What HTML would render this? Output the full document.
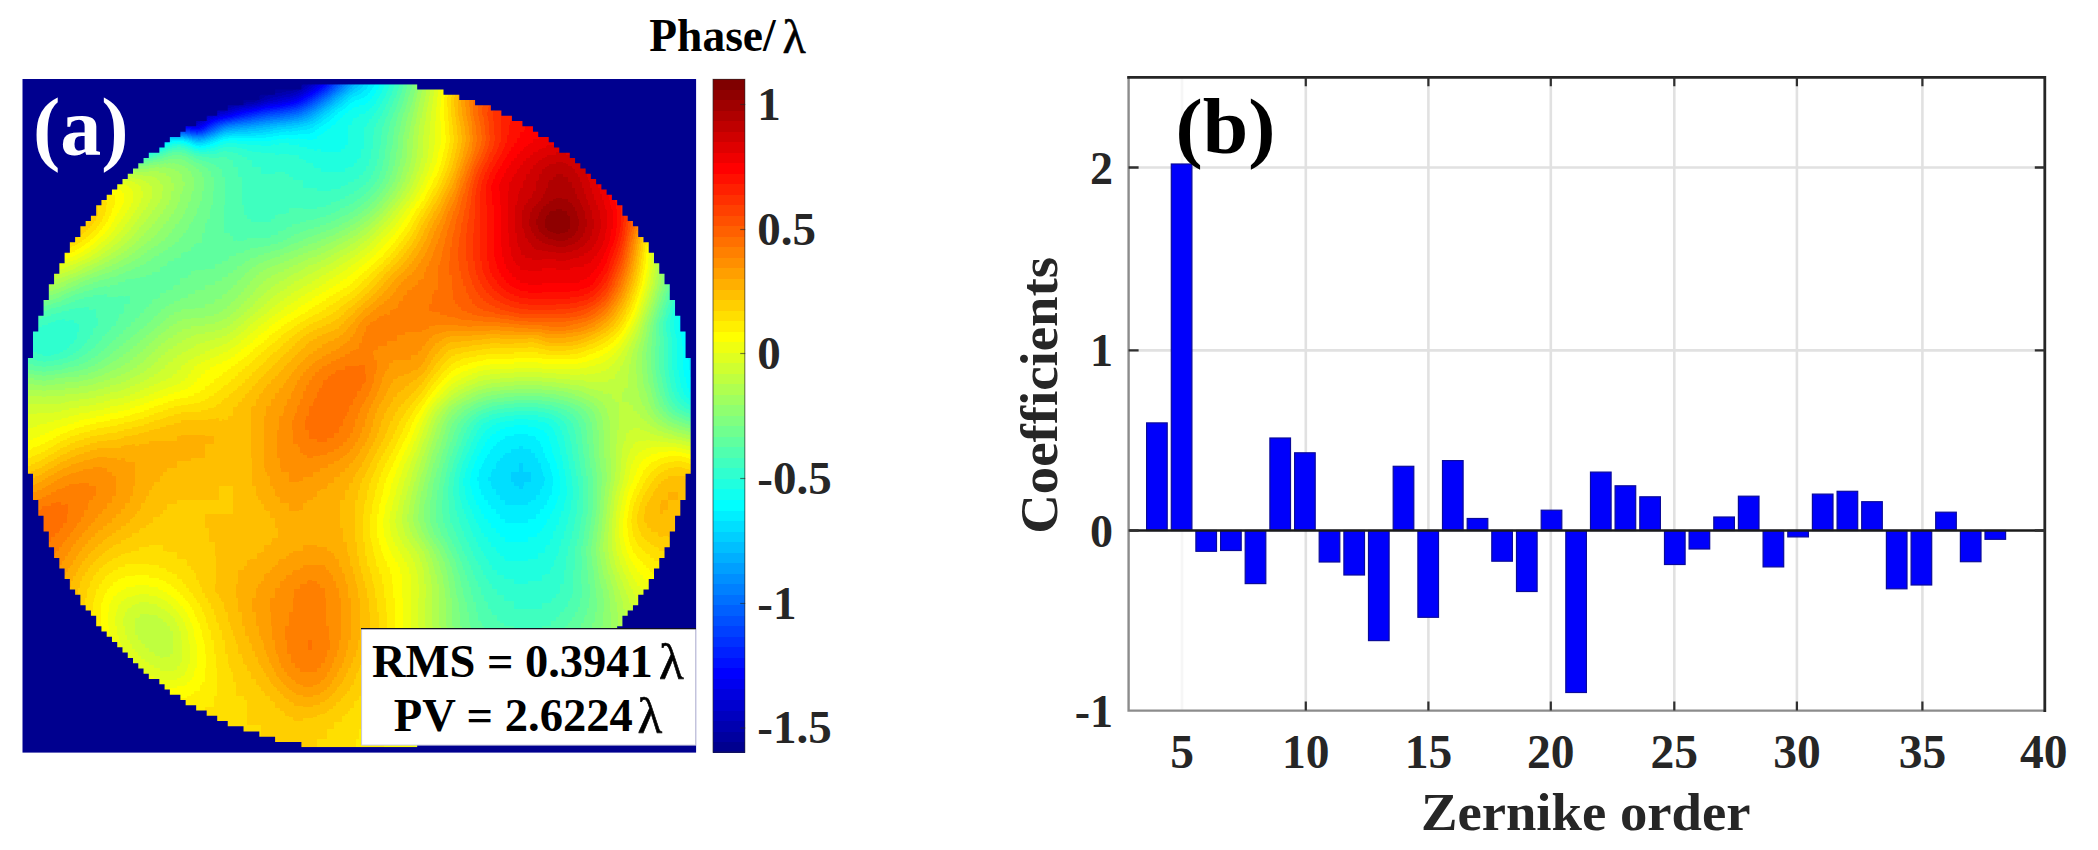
<!DOCTYPE html>
<html lang="en"><head><meta charset="utf-8"><title>Phase map and Zernike coefficients</title>
<style>html,body{margin:0;padding:0;background:#fff}body{width:2098px;height:850px;overflow:hidden;position:relative}svg{position:absolute;left:0;top:0;display:block}text{font-family:"Liberation Serif","DejaVu Serif",serif;font-weight:bold}</style></head><body>
<svg width="2098" height="850" viewBox="0 0 2098 850">
<defs>
<filter id="jet" filterUnits="userSpaceOnUse" x="-3" y="-3" width="54" height="54" color-interpolation-filters="sRGB">
<feGaussianBlur stdDeviation="0.42"/>
<feComponentTransfer><feFuncR type="discrete" tableValues="0 0 0 0 0 0 0 0 0 0 0 0 0 0 0 0 0 0 0 0 0 0 0 0 0.062 0.125 0.188 0.25 0.312 0.375 0.438 0.5 0.562 0.625 0.688 0.75 0.812 0.875 0.938 1 1 1 1 1 1 1 1 1 1 1 1 1 1 1 1 1 0.938 0.875 0.812 0.75 0.688 0.625 0.562 0.5"/><feFuncG type="discrete" tableValues="0 0 0 0 0 0 0 0 0.062 0.125 0.188 0.25 0.312 0.375 0.438 0.5 0.562 0.625 0.688 0.75 0.812 0.875 0.938 1 1 1 1 1 1 1 1 1 1 1 1 1 1 1 1 1 0.938 0.875 0.812 0.75 0.688 0.625 0.562 0.5 0.438 0.375 0.312 0.25 0.188 0.125 0.062 0 0 0 0 0 0 0 0 0"/><feFuncB type="discrete" tableValues="0.562 0.625 0.688 0.75 0.812 0.875 0.938 1 1 1 1 1 1 1 1 1 1 1 1 1 1 1 1 1 0.938 0.875 0.812 0.75 0.688 0.625 0.562 0.5 0.438 0.375 0.312 0.25 0.188 0.125 0.062 0 0 0 0 0 0 0 0 0 0 0 0 0 0 0 0 0 0 0 0 0 0 0 0 0"/></feComponentTransfer>
</filter>
<clipPath id="disk"><path d="M53 1h22v1h-22zM48 2h32v1h-32zM45 3h38v1h-38zM42 4h44v1h-44zM39 5h50v1h-50zM37 6h54v1h-54zM35 7h58v1h-58zM33 8h62v1h-62zM31 9h66v1h-66zM30 10h68v1h-68zM28 11h72v1h-72zM27 12h74v1h-74zM26 13h76v1h-76zM24 14h80v1h-80zM23 15h82v1h-82zM22 16h84v1h-84zM21 17h86v1h-86zM20 18h88v1h-88zM19 19h90v1h-90zM18 20h92v1h-92zM17 21h94v1h-94zM16 22h96v1h-96zM15 23h98v1h-98zM14 24h100v1h-100zM14 25h100v1h-100zM13 26h102v1h-102zM12 27h104v1h-104zM11 28h106v1h-106zM11 29h106v1h-106zM10 30h108v1h-108zM9 31h110v1h-110zM9 32h110v1h-110zM8 33h112v1h-112zM8 34h112v1h-112zM7 35h114v1h-114zM7 36h114v1h-114zM6 37h116v1h-116zM6 38h116v1h-116zM5 39h118v1h-118zM5 40h118v1h-118zM5 41h118v1h-118zM4 42h120v1h-120zM4 43h120v1h-120zM4 44h120v1h-120zM3 45h122v1h-122zM3 46h122v1h-122zM3 47h122v1h-122zM2 48h124v1h-124zM2 49h124v1h-124zM2 50h124v1h-124zM2 51h124v1h-124zM2 52h124v1h-124zM1 53h126v1h-126zM1 54h126v1h-126zM1 55h126v1h-126zM1 56h126v1h-126zM1 57h126v1h-126zM1 58h126v1h-126zM1 59h126v1h-126zM1 60h126v1h-126zM1 61h126v1h-126zM1 62h126v1h-126zM1 63h126v1h-126zM1 64h126v1h-126zM1 65h126v1h-126zM1 66h126v1h-126zM1 67h126v1h-126zM1 68h126v1h-126zM1 69h126v1h-126zM1 70h126v1h-126zM1 71h126v1h-126zM1 72h126v1h-126zM1 73h126v1h-126zM1 74h126v1h-126zM2 75h124v1h-124zM2 76h124v1h-124zM2 77h124v1h-124zM2 78h124v1h-124zM2 79h124v1h-124zM3 80h122v1h-122zM3 81h122v1h-122zM3 82h122v1h-122zM4 83h120v1h-120zM4 84h120v1h-120zM4 85h120v1h-120zM5 86h118v1h-118zM5 87h118v1h-118zM5 88h118v1h-118zM6 89h116v1h-116zM6 90h116v1h-116zM7 91h114v1h-114zM7 92h114v1h-114zM8 93h112v1h-112zM8 94h112v1h-112zM9 95h110v1h-110zM9 96h110v1h-110zM10 97h108v1h-108zM11 98h106v1h-106zM11 99h106v1h-106zM12 100h104v1h-104zM13 101h102v1h-102zM14 102h100v1h-100zM14 103h100v1h-100zM15 104h98v1h-98zM16 105h96v1h-96zM17 106h94v1h-94zM18 107h92v1h-92zM19 108h90v1h-90zM20 109h88v1h-88zM21 110h86v1h-86zM22 111h84v1h-84zM23 112h82v1h-82zM24 113h80v1h-80zM26 114h76v1h-76zM27 115h74v1h-74zM28 116h72v1h-72zM30 117h68v1h-68zM31 118h66v1h-66zM33 119h62v1h-62zM35 120h58v1h-58zM37 121h54v1h-54zM39 122h50v1h-50zM42 123h44v1h-44zM45 124h38v1h-38zM48 125h32v1h-32zM53 126h22v1h-22z"/></clipPath>
</defs>
<rect x="22.5" y="79.0" width="673.6" height="673.6" fill="#00008f"/>
<g transform="translate(22.50 79.00) scale(5.26250)" clip-path="url(#disk)">
<g transform="scale(2.666667)" filter="url(#jet)" shape-rendering="crispEdges">
<path fill="#000000" d="M17 -2h4v1h-4zM14 -1h6v1h-6zM12 0h8v1h-8zM10 1h7v1h-7zM9 2h4v1h-4z"/>
<path fill="#030303" d="M20 -1h1v1h-1z"/>
<path fill="#0b0b0b" d="M17 1h1v1h-1z"/>
<path fill="#0d0d0d" d="M20 0h1v1h-1zM13 2h1v1h-1z"/>
<path fill="#101010" d="M18 1h1v1h-1z"/>
<path fill="#111111" d="M21 -2h1v1h-1zM14 2h1v1h-1z"/>
<path fill="#131313" d="M21 -1h1v1h-1zM8 3h1v1h-1z"/>
<path fill="#151515" d="M12 3h1v1h-1z"/>
<path fill="#161616" d="M9 3h1v1h-1z"/>
<path fill="#181818" d="M19 1h1v1h-1z"/>
<path fill="#191919" d="M7 3h1v1h-1z"/>
<path fill="#1e1e1e" d="M21 0h1v1h-1zM15 2h1v1h-1zM11 3h1v1h-1z"/>
<path fill="#202020" d="M22 -2h1v1h-1z"/>
<path fill="#252525" d="M22 -1h1v1h-1z"/>
<path fill="#282828" d="M20 1h1v1h-1zM16 2h1v1h-1z"/>
<path fill="#2b2b2b" d="M10 3h1v1h-1z"/>
<path fill="#2f2f2f" d="M17 2h1v1h-1zM13 3h1v1h-1z"/>
<path fill="#323232" d="M23 -2h1v1h-1z"/>
<path fill="#333333" d="M18 2h1v1h-1z"/>
<path fill="#353535" d="M22 0h1v1h-1z"/>
<path fill="#393939" d="M19 2h1v1h-1z"/>
<path fill="#3b3b3b" d="M23 -1h1v1h-1zM21 1h1v1h-1z"/>
<path fill="#414141" d="M8 4h1v1h-1z"/>
<path fill="#424242" d="M7 4h1v1h-1z"/>
<path fill="#434343" d="M24 -2h1v1h-1z"/>
<path fill="#444444" d="M20 2h1v1h-1zM14 3h1v1h-1z"/>
<path fill="#464646" d="M6 4h1v1h-1z"/>
<path fill="#484848" d="M15 3h1v1h-1zM49 17h1v1h-1z"/>
<path fill="#494949" d="M9 4h1v1h-1zM49 18h1v1h-1z"/>
<path fill="#4a4a4a" d="M23 0h1v1h-1z"/>
<path fill="#4b4b4b" d="M16 3h1v1h-1zM49 19h1v1h-1z"/>
<path fill="#4d4d4d" d="M24 -1h1v1h-1z"/>
<path fill="#4e4e4e" d="M22 1h1v1h-1zM49 20h1v1h-1z"/>
<path fill="#4f4f4f" d="M17 3h1v1h-1zM12 4h1v1h-1zM48 17h1v1h-1z"/>
<path fill="#505050" d="M48 16h1v1h-1zM48 18h1v1h-1z"/>
<path fill="#525252" d="M25 -2h1v1h-1zM48 15h1v1h-1zM48 19h1v1h-1zM49 21h1v1h-1zM35 28h1v1h-1z"/>
<path fill="#535353" d="M21 2h1v1h-1zM18 3h1v1h-1zM48 20h1v1h-1zM35 27h1v1h-1z"/>
<path fill="#545454" d="M34 28h1v1h-1zM36 28h1v1h-1zM35 29h1v1h-1z"/>
<path fill="#555555" d="M19 3h1v1h-1zM48 14h1v1h-1zM34 27h1v1h-1zM36 27h1v1h-1zM34 29h1v1h-1z"/>
<path fill="#565656" d="M24 0h1v1h-1zM48 21h1v1h-1zM35 26h1v1h-1zM33 28h1v1h-1zM36 29h1v1h-1z"/>
<path fill="#575757" d="M47 17h1v1h-1z"/>
<path fill="#585858" d="M20 3h1v1h-1zM34 26h1v1h-1zM36 26h1v1h-1zM33 27h1v1h-1zM33 29h1v1h-1zM34 30h2v1h-2z"/>
<path fill="#595959" d="M47 16h1v1h-1zM49 22h1v1h-1zM37 28h1v1h-1zM36 30h1v1h-1z"/>
<path fill="#5a5a5a" d="M25 -1h1v1h-1zM13 4h1v1h-1zM47 18h1v1h-1zM35 25h1v1h-1zM33 26h1v1h-1zM32 28h1v1h-1zM37 29h1v1h-1z"/>
<path fill="#5b5b5b" d="M47 19h1v1h-1zM47 20h1v1h-1zM34 25h1v1h-1zM36 25h1v1h-1zM37 27h1v1h-1zM33 30h1v1h-1zM34 31h2v1h-2z"/>
<path fill="#5c5c5c" d="M23 1h1v1h-1zM48 22h1v1h-1zM32 27h1v1h-1zM32 29h1v1h-1zM36 31h1v1h-1z"/>
<path fill="#5d5d5d" d="M24 1h1v1h-1zM47 15h1v1h-1zM47 21h1v1h-1zM37 30h1v1h-1z"/>
<path fill="#5e5e5e" d="M22 2h1v1h-1zM33 25h1v1h-1zM37 26h1v1h-1zM33 31h1v1h-1zM34 32h2v1h-2z"/>
<path fill="#5f5f5f" d="M21 3h1v1h-1zM37 25h1v1h-1zM32 30h1v1h-1zM36 32h1v1h-1z"/>
<path fill="#606060" d="M26 -2h1v1h-1zM25 0h1v1h-1zM47 22h1v1h-1zM35 24h1v1h-1zM32 26h1v1h-1zM37 31h1v1h-1z"/>
<path fill="#616161" d="M10 4h1v1h-1zM20 4h1v1h-1zM46 17h1v1h-1zM34 24h1v1h-1zM36 24h1v1h-1zM38 28h1v1h-1zM38 29h1v1h-1zM33 32h1v1h-1zM34 33h2v1h-2z"/>
<path fill="#626262" d="M22 3h1v1h-1zM16 4h2v1h-2zM21 4h2v1h-2zM47 14h1v1h-1zM31 28h1v1h-1zM32 31h1v1h-1zM37 32h1v1h-1zM36 33h1v1h-1z"/>
<path fill="#636363" d="M23 2h1v1h-1zM15 4h1v1h-1zM19 4h1v1h-1zM49 23h1v1h-1zM37 24h1v1h-1zM38 27h1v1h-1zM31 29h1v1h-1zM38 30h1v1h-1z"/>
<path fill="#646464" d="M24 2h1v1h-1zM23 3h1v1h-1zM11 4h1v1h-1zM18 4h1v1h-1zM23 4h1v1h-1zM21 5h2v1h-2zM33 24h1v1h-1zM32 25h1v1h-1zM33 33h1v1h-1zM37 33h1v1h-1zM34 34h3v1h-3z"/>
<path fill="#656565" d="M25 1h1v1h-1zM14 4h1v1h-1zM23 5h1v1h-1zM46 16h1v1h-1zM46 18h1v1h-1zM46 19h1v1h-1zM46 20h1v1h-1zM38 26h1v1h-1zM31 27h1v1h-1zM38 31h1v1h-1zM32 32h1v1h-1z"/>
<path fill="#666666" d="M26 -1h1v1h-1zM20 5h1v1h-1zM47 13h1v1h-1zM48 23h1v1h-1zM31 30h1v1h-1zM33 34h1v1h-1zM37 34h1v1h-1zM35 35h1v1h-1z"/>
<path fill="#676767" d="M21 6h2v1h-2zM1 18h2v1h-2zM46 21h1v1h-1zM38 25h1v1h-1zM38 32h1v1h-1zM34 35h1v1h-1zM36 35h1v1h-1z"/>
<path fill="#686868" d="M24 3h1v1h-1zM24 4h1v1h-1zM18 5h2v1h-2zM23 6h1v1h-1zM32 33h1v1h-1zM37 35h1v1h-1z"/>
<path fill="#696969" d="M7 5h1v1h-1zM17 5h1v1h-1zM24 5h1v1h-1zM20 6h1v1h-1zM2 17h1v1h-1zM1 19h1v1h-1zM32 24h1v1h-1zM31 31h1v1h-1zM38 33h1v1h-1zM33 35h1v1h-1zM35 36h3v1h-3z"/>
<path fill="#6a6a6a" d="M25 2h1v1h-1zM6 5h1v1h-1zM16 5h1v1h-1zM19 6h1v1h-1zM21 7h2v1h-2zM47 12h1v1h-1zM3 17h1v1h-1zM0 18h1v1h-1zM3 18h1v1h-1zM2 19h1v1h-1zM46 22h1v1h-1zM47 23h1v1h-1zM38 24h1v1h-1zM31 26h1v1h-1zM39 29h1v1h-1zM38 34h1v1h-1zM34 36h1v1h-1z"/>
<path fill="#6b6b6b" d="M26 0h1v1h-1zM5 5h1v1h-1zM8 5h1v1h-1zM17 6h2v1h-2zM24 6h1v1h-1zM20 7h1v1h-1zM46 15h1v1h-1zM1 17h1v1h-1zM39 28h1v1h-1zM39 30h1v1h-1zM31 32h1v1h-1zM32 34h1v1h-1zM38 35h1v1h-1zM35 37h2v1h-2z"/>
<path fill="#6c6c6c" d="M16 6h1v1h-1zM19 7h1v1h-1zM23 7h1v1h-1zM0 19h1v1h-1zM39 31h1v1h-1zM33 36h1v1h-1zM38 36h1v1h-1zM34 37h1v1h-1zM37 37h1v1h-1z"/>
<path fill="#6d6d6d" d="M15 5h1v1h-1zM16 7h2v1h-2zM16 8h2v1h-2zM20 8h2v1h-2zM4 17h1v1h-1zM35 23h2v1h-2zM39 27h1v1h-1zM30 29h1v1h-1zM35 38h2v1h-2z"/>
<path fill="#6e6e6e" d="M27 -2h1v1h-1zM25 3h1v1h-1zM18 7h1v1h-1zM18 8h2v1h-2zM22 8h1v1h-1zM16 9h2v1h-2zM3 16h2v1h-2zM0 17h1v1h-1zM4 18h1v1h-1zM3 19h1v1h-1zM34 23h1v1h-1zM31 25h1v1h-1zM30 28h1v1h-1zM30 30h1v1h-1zM39 32h1v1h-1zM31 33h1v1h-1zM32 35h1v1h-1zM33 37h1v1h-1zM38 37h1v1h-1zM34 38h1v1h-1zM37 38h1v1h-1z"/>
<path fill="#6f6f6f" d="M26 1h1v1h-1zM25 4h1v1h-1zM13 5h1v1h-1zM15 6h1v1h-1zM24 7h1v1h-1zM18 9h1v1h-1zM37 23h1v1h-1zM39 26h1v1h-1zM30 31h1v1h-1z"/>
<path fill="#707070" d="M14 5h1v1h-1zM25 5h1v1h-1zM15 7h1v1h-1zM15 8h1v1h-1zM15 9h1v1h-1zM19 9h2v1h-2zM16 10h2v1h-2zM2 16h1v1h-1zM5 16h1v1h-1zM5 17h1v1h-1zM45 17h1v1h-1zM-1 18h1v1h-1zM33 23h1v1h-1zM39 25h1v1h-1zM39 33h1v1h-1zM39 34h1v1h-1zM32 36h1v1h-1zM33 38h1v1h-1zM35 39h2v1h-2z"/>
<path fill="#717171" d="M12 5h1v1h-1zM23 8h1v1h-1zM21 9h1v1h-1zM15 10h1v1h-1zM46 14h1v1h-1zM46 23h1v1h-1zM49 24h1v1h-1zM30 27h1v1h-1zM31 34h1v1h-1zM39 35h1v1h-1zM39 36h1v1h-1zM38 38h1v1h-1zM34 39h1v1h-1zM37 39h1v1h-1z"/>
<path fill="#727272" d="M9 5h1v1h-1zM14 6h1v1h-1zM25 6h1v1h-1zM18 10h1v1h-1zM5 15h1v1h-1zM6 16h1v1h-1zM45 18h1v1h-1zM-1 19h1v1h-1zM45 19h1v1h-1zM45 20h1v1h-1zM39 24h1v1h-1zM30 32h1v1h-1zM32 37h1v1h-1zM39 37h1v1h-1zM33 39h1v1h-1z"/>
<path fill="#737373" d="M14 7h1v1h-1zM14 8h1v1h-1zM14 9h1v1h-1zM14 10h1v1h-1zM15 11h1v1h-1zM4 15h1v1h-1zM6 15h2v1h-2zM1 16h1v1h-1zM-1 17h1v1h-1zM6 17h1v1h-1zM5 18h1v1h-1zM4 19h1v1h-1zM1 20h1v1h-1zM38 23h1v1h-1zM31 24h1v1h-1zM32 38h1v1h-1zM35 40h2v1h-2z"/>
<path fill="#747474" d="M27 -1h1v1h-1zM26 2h1v1h-1zM22 9h1v1h-1zM19 10h1v1h-1zM14 11h1v1h-1zM16 11h2v1h-2zM7 16h1v1h-1zM45 21h1v1h-1zM48 24h1v1h-1zM31 35h1v1h-1zM38 39h1v1h-1zM34 40h1v1h-1zM37 40h1v1h-1z"/>
<path fill="#757575" d="M24 8h1v1h-1zM46 13h1v1h-1zM8 15h1v1h-1zM0 20h1v1h-1zM2 20h1v1h-1zM32 23h1v1h-1zM30 26h1v1h-1zM40 30h1v1h-1zM39 38h1v1h-1z"/>
<path fill="#767676" d="M25 7h1v1h-1zM13 10h1v1h-1zM20 10h1v1h-1zM13 11h1v1h-1zM18 11h1v1h-1zM12 12h3v1h-3zM10 13h2v1h-2zM7 14h4v1h-4zM3 15h1v1h-1zM45 16h1v1h-1zM-2 18h1v1h-1zM40 28h1v1h-1zM40 29h1v1h-1zM30 33h1v1h-1zM31 36h1v1h-1zM32 39h1v1h-1zM33 40h1v1h-1zM35 41h2v1h-2z"/>
<path fill="#777777" d="M26 3h1v1h-1zM13 6h1v1h-1zM13 9h1v1h-1zM23 9h1v1h-1zM11 12h1v1h-1zM12 13h2v1h-2zM9 15h1v1h-1zM0 16h1v1h-1zM8 16h1v1h-1zM7 17h1v1h-1zM6 18h1v1h-1zM5 19h1v1h-1zM3 20h1v1h-1zM45 22h1v1h-1zM29 30h1v1h-1zM29 31h1v1h-1zM40 31h1v1h-1zM39 39h1v1h-1zM38 40h1v1h-1zM34 41h1v1h-1zM37 41h1v1h-1z"/>
<path fill="#787878" d="M27 0h1v1h-1zM26 4h1v1h-1zM13 7h1v1h-1zM13 8h1v1h-1zM21 10h1v1h-1zM12 11h1v1h-1zM15 12h1v1h-1zM46 12h1v1h-1zM9 13h1v1h-1zM6 14h1v1h-1zM11 14h1v1h-1zM-2 17h1v1h-1zM-2 19h1v1h-1zM39 23h1v1h-1zM40 27h1v1h-1zM29 29h1v1h-1zM40 36h1v1h-1zM31 37h1v1h-1zM40 37h1v1h-1z"/>
<path fill="#797979" d="M12 10h1v1h-1zM10 12h1v1h-1zM14 13h1v1h-1zM10 15h1v1h-1zM47 24h1v1h-1zM30 25h1v1h-1zM40 26h1v1h-1zM40 32h1v1h-1zM40 35h1v1h-1zM31 38h1v1h-1zM32 40h1v1h-1zM33 41h1v1h-1z"/>
<path fill="#7a7a7a" d="M10 5h2v1h-2zM26 5h1v1h-1zM11 11h1v1h-1zM19 11h1v1h-1zM16 12h1v1h-1zM8 13h1v1h-1zM5 14h1v1h-1zM12 14h1v1h-1zM-1 16h1v1h-1zM9 16h1v1h-1zM8 17h1v1h-1zM-1 20h1v1h-1zM4 20h1v1h-1zM40 25h1v1h-1zM29 28h1v1h-1zM29 32h1v1h-1zM40 34h1v1h-1zM40 38h1v1h-1zM31 39h1v1h-1zM39 40h1v1h-1zM38 41h1v1h-1zM35 42h2v1h-2z"/>
<path fill="#7b7b7b" d="M27 1h1v1h-1zM12 9h1v1h-1zM22 10h1v1h-1zM13 14h1v1h-1zM11 15h1v1h-1zM7 18h1v1h-1zM40 24h1v1h-1zM40 33h1v1h-1zM30 34h1v1h-1zM34 42h1v1h-1zM37 42h1v1h-1z"/>
<path fill="#7c7c7c" d="M28 -2h1v1h-1zM26 6h1v1h-1zM9 12h1v1h-1zM17 12h1v1h-1zM15 13h1v1h-1zM2 15h1v1h-1zM6 19h1v1h-1zM31 23h1v1h-1zM45 23h1v1h-1zM30 24h1v1h-1zM40 39h1v1h-1zM32 41h1v1h-1zM39 41h1v1h-1z"/>
<path fill="#7d7d7d" d="M12 6h1v1h-1zM12 8h1v1h-1zM25 8h1v1h-1zM24 9h1v1h-1zM11 10h1v1h-1zM20 11h1v1h-1zM46 11h1v1h-1zM7 13h1v1h-1zM4 14h1v1h-1zM14 14h1v1h-1zM12 15h1v1h-1zM45 15h1v1h-1zM35 22h2v1h-2zM29 27h1v1h-1zM30 35h1v1h-1zM31 40h1v1h-1zM33 42h1v1h-1zM38 42h1v1h-1zM36 43h1v1h-1z"/>
<path fill="#7e7e7e" d="M12 7h1v1h-1zM10 11h1v1h-1zM13 15h1v1h-1zM10 16h1v1h-1zM9 17h1v1h-1zM-2 20h1v1h-1zM5 20h1v1h-1zM34 22h1v1h-1zM37 22h1v1h-1zM46 24h1v1h-1zM40 40h1v1h-1zM35 43h1v1h-1zM37 43h1v1h-1z"/>
<path fill="#7f7f7f" d="M27 2h1v1h-1zM18 12h1v1h-1zM8 18h1v1h-1zM44 19h1v1h-1zM40 23h1v1h-1zM49 25h1v1h-1zM30 36h1v1h-1zM39 42h1v1h-1zM34 43h1v1h-1z"/>
<path fill="#808080" d="M26 7h1v1h-1zM11 9h1v1h-1zM23 10h1v1h-1zM21 11h1v1h-1zM8 12h1v1h-1zM16 13h1v1h-1zM15 14h1v1h-1zM1 15h1v1h-1zM14 15h1v1h-1zM11 16h2v1h-2zM7 19h1v1h-1zM44 20h1v1h-1zM1 21h1v1h-1zM33 22h1v1h-1zM38 22h1v1h-1zM30 37h1v1h-1zM41 37h1v1h-1zM30 38h1v1h-1zM41 38h1v1h-1zM40 41h1v1h-1zM32 42h1v1h-1zM38 43h1v1h-1z"/>
<path fill="#818181" d="M10 10h1v1h-1zM6 13h1v1h-1zM13 16h1v1h-1zM44 18h1v1h-1zM44 21h1v1h-1zM29 26h1v1h-1zM28 30h1v1h-1zM28 31h1v1h-1zM29 33h1v1h-1zM41 36h1v1h-1zM30 39h1v1h-1zM41 39h1v1h-1zM31 41h1v1h-1zM33 43h1v1h-1zM35 44h3v1h-3z"/>
<path fill="#828282" d="M28 -1h1v1h-1zM27 3h1v1h-1zM11 6h1v1h-1zM11 8h1v1h-1zM9 11h1v1h-1zM19 12h1v1h-1zM0 15h1v1h-1zM6 20h1v1h-1zM0 21h1v1h-1zM2 21h1v1h-1zM41 28h1v1h-1zM40 42h1v1h-1zM39 43h1v1h-1zM34 44h1v1h-1z"/>
<path fill="#838383" d="M3 14h1v1h-1zM45 14h1v1h-1zM-1 15h1v1h-1zM10 17h1v1h-1zM3 21h1v1h-1zM32 22h1v1h-1zM41 27h1v1h-1zM28 29h1v1h-1zM41 29h1v1h-1zM41 40h1v1h-1zM38 44h1v1h-1z"/>
<path fill="#848484" d="M27 4h1v1h-1zM27 5h1v1h-1zM11 7h1v1h-1zM46 10h1v1h-1zM22 11h1v1h-1zM17 13h1v1h-1zM15 15h1v1h-1zM14 16h1v1h-1zM44 17h1v1h-1zM9 18h1v1h-1zM8 19h1v1h-1zM-1 21h1v1h-1zM4 21h1v1h-1zM39 22h1v1h-1zM44 22h1v1h-1zM30 23h1v1h-1zM41 25h1v1h-1zM41 26h1v1h-1zM41 35h1v1h-1zM30 40h1v1h-1zM41 41h1v1h-1zM32 43h1v1h-1zM40 43h1v1h-1zM33 44h1v1h-1zM39 44h1v1h-1zM36 45h1v1h-1z"/>
<path fill="#858585" d="M10 9h1v1h-1zM25 9h1v1h-1zM7 12h1v1h-1zM20 12h1v1h-1zM5 13h1v1h-1zM16 14h1v1h-1zM7 20h1v1h-1zM-2 21h1v1h-1zM41 24h1v1h-1zM45 24h1v1h-1zM29 25h1v1h-1zM48 25h1v1h-1zM41 30h1v1h-1zM28 32h1v1h-1zM29 34h1v1h-1zM31 42h1v1h-1zM35 45h1v1h-1zM37 45h1v1h-1z"/>
<path fill="#868686" d="M28 0h1v1h-1zM10 6h1v1h-1zM9 10h1v1h-1zM24 10h1v1h-1zM8 11h1v1h-1zM18 13h1v1h-1zM11 17h1v1h-1zM28 28h1v1h-1zM41 31h1v1h-1zM41 42h1v1h-1zM34 45h1v1h-1zM38 45h1v1h-1z"/>
<path fill="#878787" d="M4 6h5v1h-5zM27 6h1v1h-1zM26 8h1v1h-1zM45 13h1v1h-1zM12 17h1v1h-1zM5 21h1v1h-1zM41 23h1v1h-1zM44 23h1v1h-1zM41 34h1v1h-1zM42 39h1v1h-1zM30 41h1v1h-1zM41 43h1v1h-1zM32 44h1v1h-1zM40 44h1v1h-1z"/>
<path fill="#888888" d="M9 6h1v1h-1zM10 8h1v1h-1zM21 12h1v1h-1zM13 17h1v1h-1zM10 18h1v1h-1zM40 22h1v1h-1zM41 32h1v1h-1zM29 35h1v1h-1zM42 38h1v1h-1zM42 40h1v1h-1zM42 41h1v1h-1zM31 43h1v1h-1zM33 45h1v1h-1zM35 46h3v1h-3z"/>
<path fill="#898989" d="M28 1h1v1h-1zM10 7h1v1h-1zM23 11h1v1h-1zM45 12h1v1h-1zM19 13h1v1h-1zM2 14h1v1h-1zM17 14h1v1h-1zM16 15h1v1h-1zM15 16h1v1h-1zM9 19h1v1h-1zM8 20h1v1h-1zM6 21h1v1h-1zM31 22h1v1h-1zM29 24h1v1h-1zM41 33h1v1h-1zM29 36h1v1h-1zM29 37h1v1h-1zM42 37h1v1h-1zM29 38h1v1h-1zM42 42h1v1h-1zM34 46h1v1h-1z"/>
<path fill="#8a8a8a" d="M9 9h1v1h-1zM6 12h1v1h-1zM14 17h1v1h-1zM43 20h1v1h-1zM43 21h1v1h-1zM43 22h1v1h-1zM47 25h1v1h-1zM28 27h1v1h-1zM29 39h1v1h-1zM30 42h1v1h-1zM32 45h1v1h-1z"/>
<path fill="#8b8b8b" d="M29 -2h1v1h-1zM27 7h1v1h-1zM8 10h1v1h-1zM4 13h1v1h-1zM44 16h1v1h-1zM11 18h1v1h-1zM43 19h1v1h-1zM0 22h3v1h-3zM41 22h1v1h-1zM27 31h1v1h-1zM42 36h1v1h-1zM31 44h1v1h-1zM33 46h1v1h-1zM35 47h1v1h-1z"/>
<path fill="#8c8c8c" d="M28 2h1v1h-1zM7 11h1v1h-1zM-1 14h1v1h-1zM1 14h1v1h-1zM18 14h1v1h-1zM7 21h1v1h-1zM35 21h2v1h-2zM-2 22h2v1h-2zM3 22h1v1h-1zM42 22h1v1h-1zM42 23h2v1h-2zM42 24h1v1h-1zM44 24h1v1h-1zM27 30h1v1h-1zM28 33h1v1h-1zM9 39h1v1h-1zM29 40h1v1h-1zM34 47h1v1h-1z"/>
<path fill="#8d8d8d" d="M45 11h1v1h-1zM22 12h1v1h-1zM20 13h1v1h-1zM0 14h1v1h-1zM10 19h1v1h-1zM9 20h1v1h-1zM34 21h1v1h-1zM37 21h1v1h-1zM4 22h1v1h-1zM42 25h1v1h-1zM46 25h1v1h-1zM49 26h1v1h-1zM8 39h1v1h-1zM43 39h1v1h-1zM9 40h1v1h-1zM43 40h1v1h-1zM43 41h1v1h-1zM30 43h1v1h-1zM32 46h1v1h-1z"/>
<path fill="#8e8e8e" d="M28 3h1v1h-1zM9 7h1v1h-1zM9 8h1v1h-1zM17 15h1v1h-1zM16 16h1v1h-1zM12 18h1v1h-1zM33 21h1v1h-1zM38 21h1v1h-1zM42 21h1v1h-1zM28 26h1v1h-1zM42 26h1v1h-1zM42 27h1v1h-1zM27 32h1v1h-1zM8 38h2v1h-2zM43 38h1v1h-1zM10 39h1v1h-1zM10 40h1v1h-1zM29 41h1v1h-1zM31 45h1v1h-1zM33 47h1v1h-1z"/>
<path fill="#8f8f8f" d="M28 4h1v1h-1zM28 5h1v1h-1zM25 10h1v1h-1zM24 11h1v1h-1zM15 17h1v1h-1zM13 18h1v1h-1zM8 21h1v1h-1zM39 21h1v1h-1zM5 22h1v1h-1zM43 24h1v1h-1zM42 28h1v1h-1zM27 29h1v1h-1zM42 35h1v1h-1zM10 41h1v1h-1zM30 44h1v1h-1z"/>
<path fill="#909090" d="M8 9h1v1h-1zM26 9h1v1h-1zM21 13h1v1h-1zM19 14h1v1h-1zM43 18h1v1h-1zM11 19h1v1h-1zM42 20h1v1h-1zM32 21h1v1h-1zM40 21h2v1h-2zM30 22h1v1h-1zM29 23h1v1h-1zM45 25h1v1h-1zM28 34h1v1h-1zM8 40h1v1h-1zM31 46h1v1h-1zM32 47h1v1h-1zM33 48h1v1h-1z"/>
<path fill="#919191" d="M29 -1h1v1h-1zM5 12h1v1h-1zM23 12h1v1h-1zM3 13h1v1h-1zM14 18h1v1h-1zM10 20h1v1h-1zM6 22h1v1h-1zM28 35h1v1h-1zM28 37h1v1h-1zM43 37h1v1h-1zM7 38h1v1h-1zM10 38h1v1h-1zM28 38h1v1h-1zM44 40h1v1h-1zM9 41h1v1h-1zM29 42h1v1h-1zM30 45h1v1h-1z"/>
<path fill="#929292" d="M28 6h1v1h-1zM27 8h1v1h-1zM7 10h1v1h-1zM18 15h1v1h-1zM44 15h1v1h-1zM12 19h1v1h-1zM9 21h1v1h-1zM-2 23h5v1h-5zM43 25h2v1h-2zM27 28h1v1h-1zM28 36h1v1h-1zM8 37h1v1h-1zM7 39h1v1h-1zM28 39h1v1h-1zM44 39h1v1h-1zM31 47h1v1h-1zM32 48h1v1h-1z"/>
<path fill="#939393" d="M8 7h1v1h-1zM6 11h1v1h-1zM20 14h1v1h-1zM17 16h1v1h-1zM7 22h1v1h-1zM28 25h1v1h-1zM42 29h1v1h-1zM27 33h1v1h-1zM42 34h1v1h-1zM9 37h1v1h-1zM28 40h1v1h-1zM29 43h1v1h-1zM30 46h1v1h-1z"/>
<path fill="#949494" d="M8 8h1v1h-1zM22 13h1v1h-1zM11 20h1v1h-1zM10 21h1v1h-1zM3 23h1v1h-1zM48 26h1v1h-1zM26 31h1v1h-1zM43 36h1v1h-1zM7 37h1v1h-1zM44 38h1v1h-1zM11 40h1v1h-1zM8 41h1v1h-1zM11 41h1v1h-1zM10 42h1v1h-1zM29 44h1v1h-1zM31 48h1v1h-1z"/>
<path fill="#959595" d="M29 0h1v1h-1zM45 10h1v1h-1zM16 17h1v1h-1zM13 19h1v1h-1zM42 19h1v1h-1zM41 20h1v1h-1zM31 21h1v1h-1zM4 23h1v1h-1zM43 26h1v1h-1zM27 27h1v1h-1zM11 39h1v1h-1zM7 40h1v1h-1zM29 45h1v1h-1zM30 47h1v1h-1z"/>
<path fill="#969696" d="M2 13h1v1h-1zM19 15h1v1h-1zM15 18h1v1h-1zM8 22h1v1h-1zM-2 24h3v1h-3zM26 30h1v1h-1zM42 30h1v1h-1zM26 32h1v1h-1zM42 33h1v1h-1zM44 37h1v1h-1zM28 41h1v1h-1zM9 42h1v1h-1zM29 46h1v1h-1zM30 48h1v1h-1z"/>
<path fill="#979797" d="M29 1h1v1h-1zM28 7h1v1h-1zM7 9h1v1h-1zM26 10h1v1h-1zM25 11h1v1h-1zM24 12h1v1h-1zM0 13h1v1h-1zM21 14h1v1h-1zM40 20h1v1h-1zM11 21h1v1h-1zM5 23h1v1h-1zM1 24h1v1h-1zM27 34h1v1h-1zM10 37h1v1h-1zM11 42h1v1h-1zM28 42h1v1h-1zM29 47h1v1h-1z"/>
<path fill="#989898" d="M29 2h1v1h-1zM29 3h1v1h-1zM29 4h1v1h-1zM7 7h1v1h-1zM4 12h1v1h-1zM1 13h1v1h-1zM44 14h1v1h-1zM18 16h1v1h-1zM43 17h1v1h-1zM14 19h1v1h-1zM35 20h2v1h-2zM28 24h1v1h-1zM49 27h1v1h-1zM42 31h1v1h-1zM42 32h1v1h-1zM43 35h1v1h-1zM6 38h1v1h-1zM11 38h1v1h-1zM45 38h1v1h-1zM28 43h1v1h-1zM29 48h1v1h-1zM30 49h1v1h-1z"/>
<path fill="#999999" d="M30 -2h1v1h-1zM3 7h1v1h-1zM6 10h1v1h-1zM23 13h1v1h-1zM12 20h1v1h-1zM33 20h2v1h-2zM37 20h3v1h-3zM9 22h1v1h-1zM6 23h1v1h-1zM2 24h1v1h-1zM44 26h1v1h-1zM47 26h1v1h-1zM43 27h1v1h-1zM26 29h1v1h-1zM26 33h1v1h-1zM27 35h1v1h-1zM8 36h1v1h-1zM27 36h1v1h-1zM44 36h1v1h-1zM6 37h1v1h-1zM27 37h1v1h-1zM27 38h1v1h-1zM6 39h1v1h-1zM27 39h1v1h-1zM7 41h1v1h-1zM8 42h1v1h-1zM28 44h1v1h-1zM28 45h1v1h-1zM28 46h1v1h-1z"/>
<path fill="#9a9a9a" d="M29 5h1v1h-1zM27 9h1v1h-1zM5 11h1v1h-1zM20 15h1v1h-1zM17 17h1v1h-1zM30 21h1v1h-1zM-2 25h3v1h-3zM27 26h1v1h-1zM7 36h1v1h-1zM9 36h1v1h-1zM27 40h1v1h-1zM28 47h1v1h-1zM29 49h1v1h-1z"/>
<path fill="#9b9b9b" d="M4 7h3v1h-3zM7 8h1v1h-1zM22 14h1v1h-1zM16 18h1v1h-1zM32 20h1v1h-1zM29 22h1v1h-1zM7 23h1v1h-1zM3 24h1v1h-1zM45 26h1v1h-1zM26 28h1v1h-1zM43 28h1v1h-1zM45 37h1v1h-1zM6 40h1v1h-1zM28 48h1v1h-1z"/>
<path fill="#9c9c9c" d="M44 13h1v1h-1zM19 16h1v1h-1zM15 19h1v1h-1zM41 19h1v1h-1zM13 20h1v1h-1zM12 21h1v1h-1zM10 22h1v1h-1zM1 25h1v1h-1zM46 26h1v1h-1zM43 34h1v1h-1zM12 40h1v1h-1zM12 41h1v1h-1zM27 41h1v1h-1zM9 43h2v1h-2zM27 44h1v1h-1zM27 45h1v1h-1zM27 46h1v1h-1zM27 47h1v1h-1zM28 49h1v1h-1z"/>
<path fill="#9d9d9d" d="M29 6h1v1h-1zM28 8h1v1h-1zM45 9h1v1h-1zM25 12h1v1h-1zM26 34h1v1h-1zM44 35h1v1h-1zM6 36h1v1h-1zM10 36h1v1h-1zM11 37h1v1h-1zM6 41h1v1h-1zM7 42h1v1h-1zM12 42h1v1h-1zM27 42h1v1h-1zM11 43h1v1h-1zM27 43h1v1h-1zM27 48h1v1h-1z"/>
<path fill="#9e9e9e" d="M6 9h1v1h-1zM26 11h1v1h-1zM0 12h1v1h-1zM44 12h1v1h-1zM24 13h1v1h-1zM21 15h1v1h-1zM42 18h1v1h-1zM14 20h1v1h-1zM31 20h1v1h-1zM11 22h1v1h-1zM8 23h1v1h-1zM4 24h1v1h-1zM25 31h1v1h-1zM25 32h1v1h-1zM45 36h1v1h-1zM46 37h1v1h-1zM12 39h1v1h-1zM8 43h1v1h-1zM26 47h1v1h-1zM27 49h1v1h-1z"/>
<path fill="#9f9f9f" d="M3 12h1v1h-1zM23 14h1v1h-1zM18 17h1v1h-1zM13 21h1v1h-1zM28 23h1v1h-1zM27 25h1v1h-1zM-2 26h2v1h-2zM26 27h1v1h-1zM44 27h1v1h-1zM25 30h1v1h-1zM7 35h2v1h-2zM26 35h1v1h-1zM26 36h1v1h-1zM12 43h1v1h-1zM26 45h1v1h-1zM26 46h1v1h-1zM26 48h1v1h-1zM26 49h1v1h-1z"/>
<path fill="#a0a0a0" d="M30 -1h1v1h-1zM27 10h1v1h-1zM20 16h1v1h-1zM43 16h1v1h-1zM17 18h1v1h-1zM40 19h1v1h-1zM12 22h1v1h-1zM5 24h1v1h-1zM2 25h1v1h-1zM0 26h1v1h-1zM48 27h1v1h-1zM49 28h1v1h-1zM43 29h1v1h-1zM25 33h1v1h-1zM9 35h1v1h-1zM46 36h1v1h-1zM5 37h1v1h-1zM26 37h1v1h-1zM5 38h1v1h-1zM12 38h1v1h-1zM26 38h1v1h-1zM5 39h1v1h-1zM26 39h1v1h-1zM26 43h1v1h-1zM26 44h1v1h-1zM25 47h1v1h-1zM25 48h1v1h-1z"/>
<path fill="#a1a1a1" d="M6 8h1v1h-1zM44 11h1v1h-1zM1 12h1v1h-1zM16 19h1v1h-1zM9 23h1v1h-1zM25 29h1v1h-1zM43 33h1v1h-1zM44 34h1v1h-1zM6 35h1v1h-1zM45 35h1v1h-1zM5 40h1v1h-1zM26 40h1v1h-1zM26 41h1v1h-1zM6 42h1v1h-1zM26 42h1v1h-1zM7 43h1v1h-1zM9 44h3v1h-3zM25 46h1v1h-1zM25 49h1v1h-1z"/>
<path fill="#a2a2a2" d="M2 12h1v1h-1zM22 15h1v1h-1zM15 20h1v1h-1zM30 20h1v1h-1zM14 21h1v1h-1zM6 24h1v1h-1zM25 34h1v1h-1zM10 35h1v1h-1zM5 36h1v1h-1zM11 36h1v1h-1zM13 41h1v1h-1zM13 42h1v1h-1zM13 43h1v1h-1zM8 44h1v1h-1zM12 44h1v1h-1zM25 45h1v1h-1zM24 47h1v1h-1zM24 48h1v1h-1zM24 49h1v1h-1z"/>
<path fill="#a3a3a3" d="M29 7h1v1h-1zM5 10h1v1h-1zM4 11h1v1h-1zM19 17h1v1h-1zM35 19h2v1h-2zM29 21h1v1h-1zM13 22h1v1h-1zM27 24h1v1h-1zM1 26h1v1h-1zM26 26h1v1h-1zM25 28h1v1h-1zM46 35h1v1h-1zM12 37h1v1h-1zM13 40h1v1h-1zM5 41h1v1h-1zM13 44h1v1h-1zM25 44h1v1h-1zM24 46h1v1h-1z"/>
<path fill="#a4a4a4" d="M30 4h1v1h-1zM21 16h1v1h-1zM33 19h2v1h-2zM39 19h1v1h-1zM10 23h1v1h-1zM7 24h1v1h-1zM3 25h1v1h-1zM45 27h1v1h-1zM44 28h1v1h-1zM43 30h1v1h-1zM43 32h1v1h-1zM7 34h3v1h-3zM45 34h1v1h-1zM25 35h1v1h-1zM47 35h1v1h-1zM13 39h1v1h-1zM6 43h1v1h-1zM25 43h1v1h-1zM10 45h3v1h-3zM24 45h1v1h-1zM23 46h1v1h-1zM23 47h1v1h-1zM23 48h1v1h-1zM23 49h1v1h-1z"/>
<path fill="#a5a5a5" d="M30 3h1v1h-1zM28 9h1v1h-1zM26 12h1v1h-1zM25 13h1v1h-1zM24 14h1v1h-1zM18 18h1v1h-1zM32 19h1v1h-1zM37 19h2v1h-2zM-2 27h2v1h-2zM49 29h1v1h-1zM44 33h1v1h-1zM5 35h1v1h-1zM11 35h1v1h-1zM25 36h1v1h-1zM5 42h1v1h-1zM25 42h1v1h-1zM7 44h1v1h-1zM24 44h1v1h-1zM9 45h1v1h-1zM13 45h1v1h-1zM22 48h1v1h-1zM22 49h1v1h-1z"/>
<path fill="#a6a6a6" d="M30 0h1v1h-1zM3 8h1v1h-1zM5 8h1v1h-1zM23 15h1v1h-1zM41 18h1v1h-1zM17 19h1v1h-1zM16 20h1v1h-1zM15 21h1v1h-1zM11 23h2v1h-2zM8 24h1v1h-1zM25 27h1v1h-1zM47 27h1v1h-1zM24 31h1v1h-1zM43 31h1v1h-1zM24 32h1v1h-1zM6 34h1v1h-1zM10 34h1v1h-1zM46 34h1v1h-1zM12 36h1v1h-1zM25 37h1v1h-1zM4 38h1v1h-1zM13 38h1v1h-1zM4 39h1v1h-1zM4 40h1v1h-1zM25 40h1v1h-1zM25 41h1v1h-1zM14 42h1v1h-1zM14 43h1v1h-1zM14 44h1v1h-1zM14 45h1v1h-1zM23 45h1v1h-1zM12 46h2v1h-2zM22 46h1v1h-1zM22 47h1v1h-1zM21 49h1v1h-1z"/>
<path fill="#a7a7a7" d="M30 2h1v1h-1zM30 5h1v1h-1zM1 11h1v1h-1zM27 11h1v1h-1zM43 15h1v1h-1zM31 19h1v1h-1zM14 22h1v1h-1zM28 22h1v1h-1zM4 25h1v1h-1zM26 25h1v1h-1zM0 27h1v1h-1zM46 27h1v1h-1zM48 28h1v1h-1zM24 30h1v1h-1zM49 30h1v1h-1zM8 33h2v1h-2zM24 33h1v1h-1zM11 34h1v1h-1zM47 34h1v1h-1zM4 37h1v1h-1zM25 38h1v1h-1zM25 39h1v1h-1zM14 41h1v1h-1zM24 43h1v1h-1zM15 44h1v1h-1zM15 45h1v1h-1zM10 46h2v1h-2zM14 46h3v1h-3zM21 47h1v1h-1zM20 48h2v1h-2zM20 49h1v1h-1z"/>
<path fill="#a8a8a8" d="M30 1h1v1h-1zM4 8h1v1h-1zM5 9h1v1h-1zM22 16h1v1h-1zM20 17h1v1h-1zM42 17h1v1h-1zM13 23h1v1h-1zM27 23h1v1h-1zM2 26h1v1h-1zM24 29h1v1h-1zM10 33h1v1h-1zM45 33h1v1h-1zM48 33h1v1h-1zM24 34h1v1h-1zM12 35h1v1h-1zM4 36h1v1h-1zM13 37h1v1h-1zM14 40h1v1h-1zM4 41h1v1h-1zM24 42h1v1h-1zM15 43h1v1h-1zM16 44h1v1h-1zM23 44h1v1h-1zM16 45h1v1h-1zM22 45h1v1h-1zM17 46h1v1h-1zM21 46h1v1h-1zM12 47h9v1h-9zM16 48h4v1h-4zM18 49h2v1h-2z"/>
<path fill="#a9a9a9" d="M1 10h1v1h-1zM2 11h2v1h-2zM30 19h1v1h-1zM9 24h1v1h-1zM5 25h1v1h-1zM44 29h1v1h-1zM9 32h3v1h-3zM48 32h1v1h-1zM7 33h1v1h-1zM11 33h1v1h-1zM46 33h2v1h-2zM5 34h1v1h-1zM12 34h1v1h-1zM14 39h1v1h-1zM15 42h1v1h-1zM17 45h1v1h-1zM18 46h3v1h-3zM14 48h2v1h-2zM17 49h1v1h-1z"/>
<path fill="#aaaaaa" d="M29 8h1v1h-1zM44 10h1v1h-1zM19 18h1v1h-1zM18 19h1v1h-1zM17 20h1v1h-1zM29 20h1v1h-1zM16 21h1v1h-1zM15 22h1v1h-1zM14 23h1v1h-1zM26 24h1v1h-1zM6 25h1v1h-1zM25 26h1v1h-1zM24 28h1v1h-1zM48 29h1v1h-1zM10 31h2v1h-2zM48 31h1v1h-1zM8 32h1v1h-1zM12 32h1v1h-1zM44 32h1v1h-1zM6 33h1v1h-1zM12 33h1v1h-1zM4 35h1v1h-1zM24 35h1v1h-1zM24 41h1v1h-1zM16 43h1v1h-1zM17 44h1v1h-1zM18 45h1v1h-1zM21 45h1v1h-1z"/>
<path fill="#ababab" d="M30 6h1v1h-1zM2 9h1v1h-1zM4 10h1v1h-1zM21 17h1v1h-1zM10 24h1v1h-1zM1 27h1v1h-1zM45 28h1v1h-1zM14 29h1v1h-1zM10 30h5v1h-5zM48 30h1v1h-1zM9 31h1v1h-1zM12 31h1v1h-1zM47 32h1v1h-1zM13 33h1v1h-1zM13 34h1v1h-1zM13 35h1v1h-1zM13 36h1v1h-1zM14 38h1v1h-1zM3 39h1v1h-1zM15 41h1v1h-1zM23 43h1v1h-1zM22 44h1v1h-1zM20 45h1v1h-1z"/>
<path fill="#acacac" d="M28 10h1v1h-1zM40 18h1v1h-1zM14 24h1v1h-1zM7 25h1v1h-1zM3 26h1v1h-1zM14 27h2v1h-2zM-2 28h1v1h-1zM14 28h1v1h-1zM47 28h1v1h-1zM11 29h3v1h-3zM15 29h1v1h-1zM15 30h1v1h-1zM13 31h2v1h-2zM47 31h1v1h-1zM7 32h1v1h-1zM13 32h1v1h-1zM45 32h2v1h-2zM24 36h1v1h-1zM14 37h1v1h-1zM3 38h1v1h-1zM3 40h1v1h-1zM15 40h1v1h-1zM24 40h1v1h-1zM16 42h1v1h-1zM19 45h1v1h-1z"/>
<path fill="#adadad" d="M3 9h2v1h-2zM2 10h1v1h-1zM26 13h1v1h-1zM25 14h1v1h-1zM24 15h1v1h-1zM28 21h1v1h-1zM27 22h1v1h-1zM15 23h1v1h-1zM26 23h1v1h-1zM11 24h3v1h-3zM15 24h1v1h-1zM14 25h2v1h-2zM14 26h2v1h-2zM-1 28h1v1h-1zM11 28h3v1h-3zM15 28h1v1h-1zM10 29h1v1h-1zM9 30h1v1h-1zM23 30h1v1h-1zM44 30h1v1h-1zM8 31h1v1h-1zM15 31h2v1h-2zM23 31h1v1h-1zM44 31h1v1h-1zM46 31h1v1h-1zM14 32h3v1h-3zM23 32h1v1h-1zM14 33h1v1h-1zM14 34h1v1h-1zM14 35h1v1h-1zM3 37h1v1h-1zM24 37h1v1h-1zM24 38h1v1h-1zM24 39h1v1h-1zM23 42h1v1h-1zM17 43h1v1h-1zM18 44h1v1h-1z"/>
<path fill="#aeaeae" d="M31 -1h1v1h-1zM3 10h1v1h-1zM27 12h1v1h-1zM43 14h1v1h-1zM23 16h1v1h-1zM22 17h1v1h-1zM33 18h1v1h-1zM36 18h1v1h-1zM16 22h1v1h-1zM8 25h1v1h-1zM25 25h1v1h-1zM13 27h1v1h-1zM24 27h1v1h-1zM10 28h1v1h-1zM46 28h1v1h-1zM9 29h1v1h-1zM23 29h1v1h-1zM47 29h1v1h-1zM16 30h1v1h-1zM47 30h1v1h-1zM17 31h1v1h-1zM17 32h1v1h-1zM5 33h1v1h-1zM15 33h2v1h-2zM23 33h1v1h-1zM4 34h1v1h-1zM3 36h1v1h-1zM14 36h1v1h-1zM15 39h1v1h-1zM16 41h1v1h-1z"/>
<path fill="#afafaf" d="M20 18h1v1h-1zM34 18h2v1h-2zM19 19h1v1h-1zM18 20h1v1h-1zM17 21h1v1h-1zM9 25h2v1h-2zM4 26h1v1h-1zM13 26h1v1h-1zM11 27h2v1h-2zM0 28h1v1h-1zM16 29h1v1h-1zM45 29h1v1h-1zM8 30h1v1h-1zM46 30h1v1h-1zM45 31h1v1h-1zM6 32h1v1h-1zM15 34h1v1h-1zM23 34h1v1h-1zM15 38h1v1h-1zM22 43h1v1h-1zM21 44h1v1h-1z"/>
<path fill="#b0b0b0" d="M42 16h1v1h-1zM32 18h1v1h-1zM29 19h1v1h-1zM26 22h1v1h-1zM16 23h1v1h-1zM16 24h1v1h-1zM25 24h1v1h-1zM11 25h3v1h-3zM16 25h1v1h-1zM12 26h1v1h-1zM16 26h1v1h-1zM2 27h1v1h-1zM10 27h1v1h-1zM16 27h1v1h-1zM9 28h1v1h-1zM16 28h1v1h-1zM23 28h1v1h-1zM46 29h1v1h-1zM17 30h1v1h-1zM22 30h1v1h-1zM45 30h1v1h-1zM7 31h1v1h-1zM21 31h2v1h-2zM18 32h1v1h-1zM17 33h1v1h-1zM16 34h1v1h-1zM3 35h1v1h-1zM15 35h1v1h-1zM15 36h1v1h-1zM15 37h1v1h-1zM16 40h1v1h-1zM23 41h1v1h-1zM17 42h1v1h-1zM19 44h1v1h-1z"/>
<path fill="#b1b1b1" d="M30 7h1v1h-1zM29 9h1v1h-1zM44 9h1v1h-1zM28 11h1v1h-1zM30 18h2v1h-2zM39 18h1v1h-1zM27 21h1v1h-1zM5 26h2v1h-2zM8 26h4v1h-4zM24 26h1v1h-1zM9 27h1v1h-1zM8 29h1v1h-1zM22 29h1v1h-1zM21 30h1v1h-1zM18 31h1v1h-1zM20 31h1v1h-1zM21 32h2v1h-2zM23 35h1v1h-1zM2 38h1v1h-1zM18 43h1v1h-1zM20 44h1v1h-1z"/>
<path fill="#b2b2b2" d="M41 17h1v1h-1zM21 18h1v1h-1zM18 21h1v1h-1zM17 22h1v1h-1zM25 23h1v1h-1zM7 26h1v1h-1zM8 28h1v1h-1zM-2 29h1v1h-1zM17 29h1v1h-1zM19 31h1v1h-1zM5 32h1v1h-1zM19 32h2v1h-2zM4 33h1v1h-1zM18 33h1v1h-1zM22 33h1v1h-1zM17 34h1v1h-1zM16 35h1v1h-1zM23 36h1v1h-1zM2 37h1v1h-1zM16 39h1v1h-1zM23 40h1v1h-1z"/>
<path fill="#b3b3b3" d="M31 4h1v1h-1zM37 18h2v1h-2zM20 19h1v1h-1zM19 20h1v1h-1zM26 21h1v1h-1zM8 27h1v1h-1zM23 27h1v1h-1zM1 28h1v1h-1zM17 28h1v1h-1zM22 28h1v1h-1zM21 29h1v1h-1zM7 30h1v1h-1zM18 30h1v1h-1zM20 30h1v1h-1zM6 31h1v1h-1zM19 33h1v1h-1zM16 36h1v1h-1zM23 37h1v1h-1zM16 38h1v1h-1zM23 38h1v1h-1zM23 39h1v1h-1zM17 41h1v1h-1zM22 42h1v1h-1z"/>
<path fill="#b4b4b4" d="M31 3h1v1h-1zM27 13h1v1h-1zM43 13h1v1h-1zM25 15h1v1h-1zM23 17h1v1h-1zM22 18h1v1h-1zM28 20h1v1h-1zM17 23h1v1h-1zM3 27h1v1h-1zM7 27h1v1h-1zM-1 29h1v1h-1zM20 29h1v1h-1zM19 30h1v1h-1zM20 33h2v1h-2zM3 34h1v1h-1zM18 34h1v1h-1zM22 34h1v1h-1zM17 35h1v1h-1zM2 36h1v1h-1zM16 37h1v1h-1z"/>
<path fill="#b5b5b5" d="M31 0h1v1h-1zM26 14h1v1h-1zM24 16h1v1h-1zM29 18h1v1h-1zM18 22h1v1h-1zM17 24h1v1h-1zM17 25h1v1h-1zM24 25h1v1h-1zM17 26h1v1h-1zM17 27h1v1h-1zM7 28h1v1h-1zM21 28h1v1h-1zM7 29h1v1h-1zM18 29h1v1h-1zM17 40h1v1h-1zM21 43h1v1h-1z"/>
<path fill="#b6b6b6" d="M31 5h1v1h-1zM44 8h1v1h-1zM28 12h1v1h-1zM21 19h1v1h-1zM26 20h2v1h-2zM25 22h1v1h-1zM4 27h1v1h-1zM6 27h1v1h-1zM22 27h1v1h-1zM19 29h1v1h-1zM6 30h1v1h-1zM5 31h1v1h-1zM4 32h1v1h-1zM19 34h1v1h-1zM2 35h1v1h-1zM22 35h1v1h-1zM17 36h1v1h-1zM17 39h1v1h-1zM22 41h1v1h-1zM18 42h1v1h-1zM19 43h1v1h-1z"/>
<path fill="#b7b7b7" d="M31 2h1v1h-1zM29 10h1v1h-1zM28 19h1v1h-1zM19 21h1v1h-1zM18 23h1v1h-1zM24 24h1v1h-1zM23 26h1v1h-1zM5 27h1v1h-1zM18 28h1v1h-1zM20 28h1v1h-1zM0 29h1v1h-1zM3 33h1v1h-1zM20 34h2v1h-2zM18 35h1v1h-1zM1 37h1v1h-1zM17 37h1v1h-1zM17 38h1v1h-1zM20 43h1v1h-1z"/>
<path fill="#b8b8b8" d="M31 1h1v1h-1zM44 7h1v1h-1zM30 8h1v1h-1zM23 18h1v1h-1zM20 20h1v1h-1zM25 21h1v1h-1zM18 24h1v1h-1zM18 27h1v1h-1zM21 27h1v1h-1zM2 28h1v1h-1zM6 28h1v1h-1zM19 28h1v1h-1zM6 29h1v1h-1zM-2 30h1v1h-1zM1 36h1v1h-1zM22 36h1v1h-1zM22 40h1v1h-1z"/>
<path fill="#b9b9b9" d="M32 -1h1v1h-1zM43 12h1v1h-1zM26 15h1v1h-1zM22 19h1v1h-1zM26 19h2v1h-2zM19 22h1v1h-1zM24 23h1v1h-1zM18 25h1v1h-1zM18 26h1v1h-1zM19 27h1v1h-1zM5 30h1v1h-1zM2 34h1v1h-1zM19 35h1v1h-1zM18 36h1v1h-1zM22 37h1v1h-1zM22 38h1v1h-1zM22 39h1v1h-1zM18 41h1v1h-1zM21 42h1v1h-1z"/>
<path fill="#bababa" d="M28 13h1v1h-1zM27 14h1v1h-1zM42 15h1v1h-1zM25 16h1v1h-1zM27 18h2v1h-2zM25 19h1v1h-1zM25 20h1v1h-1zM20 27h1v1h-1zM3 28h1v1h-1zM1 29h1v1h-1zM-1 30h1v1h-1zM4 31h1v1h-1zM1 35h1v1h-1zM21 35h1v1h-1zM18 37h1v1h-1zM18 38h1v1h-1zM18 40h1v1h-1zM19 42h1v1h-1z"/>
<path fill="#bbbbbb" d="M29 11h1v1h-1zM40 17h1v1h-1zM19 23h1v1h-1zM23 25h1v1h-1zM19 26h1v1h-1zM22 26h1v1h-1zM4 28h2v1h-2zM5 29h1v1h-1zM3 32h1v1h-1zM20 35h1v1h-1zM18 39h1v1h-1z"/>
<path fill="#bcbcbc" d="M31 6h1v1h-1zM28 14h1v1h-1zM26 16h1v1h-1zM24 17h1v1h-1zM29 17h2v1h-2zM26 18h1v1h-1zM23 19h1v1h-1zM21 20h1v1h-1zM20 21h1v1h-1zM19 25h1v1h-1zM4 30h1v1h-1zM2 33h1v1h-1zM19 36h1v1h-1zM21 36h1v1h-1zM19 37h1v1h-1zM21 37h1v1h-1zM21 38h1v1h-1zM21 41h1v1h-1zM20 42h1v1h-1z"/>
<path fill="#bdbdbd" d="M29 12h1v1h-1zM27 15h1v1h-1zM26 17h3v1h-3zM31 17h3v1h-3zM24 18h2v1h-2zM24 19h1v1h-1zM24 22h1v1h-1zM19 24h1v1h-1zM23 24h1v1h-1zM20 26h2v1h-2zM2 29h1v1h-1zM4 29h1v1h-1zM0 30h1v1h-1zM1 34h1v1h-1zM0 35h1v1h-1zM20 37h1v1h-1zM19 38h2v1h-2zM21 39h1v1h-1zM19 41h1v1h-1z"/>
<path fill="#bebebe" d="M30 9h1v1h-1zM43 11h1v1h-1zM28 15h1v1h-1zM27 16h1v1h-1zM25 17h1v1h-1zM34 17h1v1h-1zM20 22h1v1h-1zM3 29h1v1h-1zM3 31h1v1h-1zM20 36h1v1h-1zM19 39h1v1h-1zM19 40h1v1h-1zM21 40h1v1h-1z"/>
<path fill="#bfbfbf" d="M29 13h1v1h-1zM29 14h1v1h-1zM28 16h1v1h-1zM41 16h1v1h-1zM35 17h1v1h-1zM39 17h1v1h-1zM22 20h1v1h-1zM23 23h1v1h-1zM22 25h1v1h-1zM3 30h1v1h-1zM-1 31h1v1h-1zM2 32h1v1h-1zM1 33h1v1h-1zM0 34h1v1h-1zM20 39h1v1h-1zM20 41h1v1h-1z"/>
<path fill="#c0c0c0" d="M32 0h1v1h-1zM29 15h1v1h-1zM29 16h1v1h-1zM36 17h1v1h-1zM23 20h2v1h-2zM21 21h1v1h-1zM24 21h1v1h-1zM20 23h1v1h-1zM20 25h1v1h-1zM1 30h1v1h-1zM20 40h1v1h-1z"/>
<path fill="#c1c1c1" d="M33 -1h1v1h-1zM32 4h1v1h-1zM30 10h1v1h-1zM37 17h2v1h-2zM21 22h1v1h-1zM23 22h1v1h-1zM20 24h1v1h-1zM22 24h1v1h-1zM21 25h1v1h-1zM2 30h1v1h-1zM0 31h1v1h-1zM-1 32h1v1h-1zM-1 33h2v1h-2z"/>
<path fill="#c2c2c2" d="M32 3h1v1h-1zM31 7h1v1h-1zM30 16h1v1h-1zM22 21h2v1h-2zM22 22h1v1h-1zM21 23h2v1h-2zM2 31h1v1h-1zM0 32h2v1h-2z"/>
<path fill="#c3c3c3" d="M30 11h1v1h-1zM30 14h1v1h-1zM42 14h1v1h-1zM30 15h1v1h-1zM21 24h1v1h-1zM1 31h1v1h-1z"/>
<path fill="#c4c4c4" d="M43 10h1v1h-1zM30 12h1v1h-1zM30 13h1v1h-1zM31 16h1v1h-1z"/>
<path fill="#c5c5c5" d="M32 1h1v1h-1zM32 2h1v1h-1z"/>
<path fill="#c6c6c6" d="M32 5h1v1h-1zM31 8h1v1h-1zM31 15h1v1h-1z"/>
<path fill="#c7c7c7" d="M43 6h1v1h-1zM32 16h1v1h-1z"/>
<path fill="#c8c8c8" d="M31 9h1v1h-1zM43 9h1v1h-1zM31 14h1v1h-1zM40 16h1v1h-1z"/>
<path fill="#c9c9c9" d="M33 0h1v1h-1zM43 7h1v1h-1zM43 8h1v1h-1zM33 16h1v1h-1z"/>
<path fill="#cacaca" d="M31 10h1v1h-1zM31 13h1v1h-1z"/>
<path fill="#cbcbcb" d="M31 11h1v1h-1zM31 12h1v1h-1zM42 13h1v1h-1zM32 15h1v1h-1zM41 15h1v1h-1z"/>
<path fill="#cccccc" d="M34 16h1v1h-1z"/>
<path fill="#cdcdcd" d="M32 6h1v1h-1zM39 16h1v1h-1z"/>
<path fill="#cecece" d="M34 0h1v1h-1zM33 1h1v1h-1zM33 4h1v1h-1zM38 16h1v1h-1z"/>
<path fill="#cfcfcf" d="M33 3h1v1h-1zM32 14h1v1h-1zM35 16h3v1h-3z"/>
<path fill="#d0d0d0" d="M33 2h1v1h-1zM33 15h1v1h-1z"/>
<path fill="#d1d1d1" d="M35 0h1v1h-1zM42 5h1v1h-1z"/>
<path fill="#d2d2d2" d="M32 7h1v1h-1zM42 12h1v1h-1zM32 13h1v1h-1z"/>
<path fill="#d3d3d3" d="M34 1h1v1h-1zM33 5h1v1h-1zM32 8h1v1h-1zM32 9h1v1h-1zM32 10h1v1h-1zM32 11h1v1h-1zM32 12h1v1h-1z"/>
<path fill="#d4d4d4" d="M42 6h1v1h-1z"/>
<path fill="#d5d5d5" d="M41 14h1v1h-1zM34 15h1v1h-1zM40 15h1v1h-1z"/>
<path fill="#d6d6d6" d="M35 1h1v1h-1zM37 1h1v1h-1zM34 2h1v1h-1zM41 4h1v1h-1zM42 7h1v1h-1zM33 14h1v1h-1z"/>
<path fill="#d7d7d7" d="M36 1h1v1h-1zM34 3h1v1h-1z"/>
<path fill="#d8d8d8" d="M40 3h1v1h-1zM34 4h1v1h-1zM42 11h1v1h-1zM35 15h1v1h-1zM39 15h1v1h-1z"/>
<path fill="#d9d9d9" d="M35 2h1v1h-1zM38 2h1v1h-1zM33 6h1v1h-1zM42 8h1v1h-1zM36 15h3v1h-3z"/>
<path fill="#dadada" d="M36 2h2v1h-2zM41 5h1v1h-1zM33 13h1v1h-1z"/>
<path fill="#dbdbdb" d="M35 3h1v1h-1zM33 9h1v1h-1zM42 9h1v1h-1zM33 10h1v1h-1zM42 10h1v1h-1zM33 11h1v1h-1zM33 12h1v1h-1z"/>
<path fill="#dcdcdc" d="M39 3h1v1h-1zM34 5h1v1h-1zM33 8h1v1h-1zM41 13h1v1h-1zM34 14h1v1h-1z"/>
<path fill="#dddddd" d="M36 3h1v1h-1zM35 4h1v1h-1zM40 4h1v1h-1zM41 6h1v1h-1zM33 7h1v1h-1z"/>
<path fill="#dedede" d="M37 3h2v1h-2zM40 14h1v1h-1z"/>
<path fill="#e0e0e0" d="M36 4h1v1h-1zM34 6h1v1h-1zM41 7h1v1h-1zM41 12h1v1h-1zM34 13h1v1h-1zM35 14h1v1h-1zM37 14h3v1h-3z"/>
<path fill="#e1e1e1" d="M39 4h1v1h-1zM35 5h1v1h-1zM40 5h1v1h-1zM36 14h1v1h-1z"/>
<path fill="#e2e2e2" d="M37 4h1v1h-1zM41 8h1v1h-1zM34 12h1v1h-1zM40 13h1v1h-1z"/>
<path fill="#e3e3e3" d="M38 4h1v1h-1zM34 7h1v1h-1zM34 8h1v1h-1zM34 9h1v1h-1zM34 10h1v1h-1zM34 11h1v1h-1zM37 13h1v1h-1zM39 13h1v1h-1z"/>
<path fill="#e4e4e4" d="M41 11h1v1h-1zM35 13h2v1h-2zM38 13h1v1h-1z"/>
<path fill="#e5e5e5" d="M36 5h1v1h-1zM35 6h1v1h-1zM40 6h1v1h-1zM41 9h1v1h-1zM41 10h1v1h-1z"/>
<path fill="#e6e6e6" d="M40 12h1v1h-1z"/>
<path fill="#e7e7e7" d="M39 5h1v1h-1zM35 7h1v1h-1zM40 7h1v1h-1z"/>
<path fill="#e8e8e8" d="M37 5h1v1h-1zM35 12h1v1h-1z"/>
<path fill="#e9e9e9" d="M38 5h1v1h-1zM36 6h1v1h-1zM35 8h1v1h-1zM40 8h1v1h-1zM35 11h1v1h-1zM39 12h1v1h-1z"/>
<path fill="#eaeaea" d="M36 12h2v1h-2z"/>
<path fill="#ebebeb" d="M39 6h1v1h-1zM36 7h1v1h-1zM35 9h1v1h-1zM35 10h1v1h-1zM40 11h1v1h-1zM38 12h1v1h-1z"/>
<path fill="#ececec" d="M36 8h1v1h-1zM40 9h1v1h-1z"/>
<path fill="#ededed" d="M40 10h1v1h-1z"/>
<path fill="#eeeeee" d="M37 6h1v1h-1zM39 7h1v1h-1zM36 11h1v1h-1z"/>
<path fill="#efefef" d="M38 6h1v1h-1z"/>
<path fill="#f0f0f0" d="M37 7h1v1h-1zM39 8h1v1h-1z"/>
<path fill="#f1f1f1" d="M39 11h1v1h-1z"/>
<path fill="#f2f2f2" d="M38 7h1v1h-1zM37 8h1v1h-1zM36 9h1v1h-1z"/>
<path fill="#f3f3f3" d="M36 10h1v1h-1zM37 11h1v1h-1z"/>
<path fill="#f4f4f4" d="M38 8h1v1h-1zM39 9h1v1h-1z"/>
<path fill="#f5f5f5" d="M39 10h1v1h-1zM38 11h1v1h-1z"/>
<path fill="#f8f8f8" d="M37 9h1v1h-1z"/>
<path fill="#f9f9f9" d="M38 9h1v1h-1z"/>
<path fill="#fbfbfb" d="M37 10h1v1h-1z"/>
<path fill="#fcfcfc" d="M38 10h1v1h-1z"/>
</g></g>
<g shape-rendering="crispEdges">
<rect x="712.6" y="79.00" width="32.6" height="11.03" fill="#800000"/>
<rect x="712.6" y="89.53" width="32.6" height="11.03" fill="#8f0000"/>
<rect x="712.6" y="100.05" width="32.6" height="11.03" fill="#9f0000"/>
<rect x="712.6" y="110.58" width="32.6" height="11.03" fill="#af0000"/>
<rect x="712.6" y="121.10" width="32.6" height="11.03" fill="#bf0000"/>
<rect x="712.6" y="131.62" width="32.6" height="11.03" fill="#cf0000"/>
<rect x="712.6" y="142.15" width="32.6" height="11.03" fill="#df0000"/>
<rect x="712.6" y="152.68" width="32.6" height="11.03" fill="#ef0000"/>
<rect x="712.6" y="163.20" width="32.6" height="11.03" fill="#ff0000"/>
<rect x="712.6" y="173.73" width="32.6" height="11.03" fill="#ff1000"/>
<rect x="712.6" y="184.25" width="32.6" height="11.03" fill="#ff2000"/>
<rect x="712.6" y="194.78" width="32.6" height="11.03" fill="#ff3000"/>
<rect x="712.6" y="205.30" width="32.6" height="11.03" fill="#ff4000"/>
<rect x="712.6" y="215.83" width="32.6" height="11.03" fill="#ff5000"/>
<rect x="712.6" y="226.35" width="32.6" height="11.03" fill="#ff6000"/>
<rect x="712.6" y="236.88" width="32.6" height="11.03" fill="#ff7000"/>
<rect x="712.6" y="247.40" width="32.6" height="11.03" fill="#ff8000"/>
<rect x="712.6" y="257.93" width="32.6" height="11.03" fill="#ff8f00"/>
<rect x="712.6" y="268.45" width="32.6" height="11.03" fill="#ff9f00"/>
<rect x="712.6" y="278.98" width="32.6" height="11.03" fill="#ffaf00"/>
<rect x="712.6" y="289.50" width="32.6" height="11.03" fill="#ffbf00"/>
<rect x="712.6" y="300.02" width="32.6" height="11.03" fill="#ffcf00"/>
<rect x="712.6" y="310.55" width="32.6" height="11.03" fill="#ffdf00"/>
<rect x="712.6" y="321.08" width="32.6" height="11.03" fill="#ffef00"/>
<rect x="712.6" y="331.60" width="32.6" height="11.03" fill="#ffff00"/>
<rect x="712.6" y="342.12" width="32.6" height="11.03" fill="#efff10"/>
<rect x="712.6" y="352.65" width="32.6" height="11.03" fill="#dfff20"/>
<rect x="712.6" y="363.18" width="32.6" height="11.03" fill="#cfff30"/>
<rect x="712.6" y="373.70" width="32.6" height="11.03" fill="#bfff40"/>
<rect x="712.6" y="384.23" width="32.6" height="11.03" fill="#afff50"/>
<rect x="712.6" y="394.75" width="32.6" height="11.03" fill="#9fff60"/>
<rect x="712.6" y="405.28" width="32.6" height="11.03" fill="#8fff70"/>
<rect x="712.6" y="415.80" width="32.6" height="11.03" fill="#80ff80"/>
<rect x="712.6" y="426.32" width="32.6" height="11.03" fill="#70ff8f"/>
<rect x="712.6" y="436.85" width="32.6" height="11.03" fill="#60ff9f"/>
<rect x="712.6" y="447.38" width="32.6" height="11.03" fill="#50ffaf"/>
<rect x="712.6" y="457.90" width="32.6" height="11.03" fill="#40ffbf"/>
<rect x="712.6" y="468.43" width="32.6" height="11.03" fill="#30ffcf"/>
<rect x="712.6" y="478.95" width="32.6" height="11.03" fill="#20ffdf"/>
<rect x="712.6" y="489.48" width="32.6" height="11.03" fill="#10ffef"/>
<rect x="712.6" y="500.00" width="32.6" height="11.03" fill="#00ffff"/>
<rect x="712.6" y="510.53" width="32.6" height="11.03" fill="#00efff"/>
<rect x="712.6" y="521.05" width="32.6" height="11.03" fill="#00dfff"/>
<rect x="712.6" y="531.58" width="32.6" height="11.03" fill="#00cfff"/>
<rect x="712.6" y="542.10" width="32.6" height="11.03" fill="#00bfff"/>
<rect x="712.6" y="552.62" width="32.6" height="11.03" fill="#00afff"/>
<rect x="712.6" y="563.15" width="32.6" height="11.03" fill="#009fff"/>
<rect x="712.6" y="573.67" width="32.6" height="11.03" fill="#008fff"/>
<rect x="712.6" y="584.20" width="32.6" height="11.03" fill="#0080ff"/>
<rect x="712.6" y="594.73" width="32.6" height="11.03" fill="#0070ff"/>
<rect x="712.6" y="605.25" width="32.6" height="11.03" fill="#0060ff"/>
<rect x="712.6" y="615.77" width="32.6" height="11.03" fill="#0050ff"/>
<rect x="712.6" y="626.30" width="32.6" height="11.03" fill="#0040ff"/>
<rect x="712.6" y="636.83" width="32.6" height="11.03" fill="#0030ff"/>
<rect x="712.6" y="647.35" width="32.6" height="11.03" fill="#0020ff"/>
<rect x="712.6" y="657.88" width="32.6" height="11.03" fill="#0010ff"/>
<rect x="712.6" y="668.40" width="32.6" height="11.03" fill="#0000ff"/>
<rect x="712.6" y="678.93" width="32.6" height="11.03" fill="#0000ef"/>
<rect x="712.6" y="689.45" width="32.6" height="11.03" fill="#0000df"/>
<rect x="712.6" y="699.98" width="32.6" height="11.03" fill="#0000cf"/>
<rect x="712.6" y="710.50" width="32.6" height="11.03" fill="#0000bf"/>
<rect x="712.6" y="721.02" width="32.6" height="11.03" fill="#0000af"/>
<rect x="712.6" y="731.55" width="32.6" height="11.03" fill="#00009f"/>
<rect x="712.6" y="742.08" width="32.6" height="11.03" fill="#00008f"/>
</g>
<rect x="713.0" y="79.4" width="31.8" height="672.8" fill="none" stroke="#262626" stroke-opacity="0.55" stroke-width="1.2"/>
<path d="M745.2 104.5h-5" stroke="#262626" stroke-opacity="0.6" stroke-width="1.2"/>
<path d="M745.2 229.5h-5" stroke="#262626" stroke-opacity="0.6" stroke-width="1.2"/>
<path d="M745.2 353.5h-5" stroke="#262626" stroke-opacity="0.6" stroke-width="1.2"/>
<path d="M745.2 478.5h-5" stroke="#262626" stroke-opacity="0.6" stroke-width="1.2"/>
<path d="M745.2 603.5h-5" stroke="#262626" stroke-opacity="0.6" stroke-width="1.2"/>
<path d="M745.2 728.0h-5" stroke="#262626" stroke-opacity="0.6" stroke-width="1.2"/>
<text x="649.3" y="51.3" font-size="45.5" fill="#000" text-anchor="start">Phase/</text>
<text x="782.5" y="52.6" font-size="48" fill="#000" style="font-weight:normal" stroke="#000" stroke-width="0.6">λ</text>
<text x="757.3" y="119.7" font-size="47.0" fill="#262626" text-anchor="start">1</text>
<text x="757.3" y="244.7" font-size="47.0" fill="#262626" text-anchor="start">0.5</text>
<text x="757.3" y="368.7" font-size="47.0" fill="#262626" text-anchor="start">0</text>
<text x="757.3" y="493.7" font-size="47.0" fill="#262626" text-anchor="start">-0.5</text>
<text x="757.3" y="618.7" font-size="47.0" fill="#262626" text-anchor="start">-1</text>
<text x="757.3" y="743.2" font-size="47.0" fill="#262626" text-anchor="start">-1.5</text>
<text x="33.0" y="155.0" font-size="82.0" fill="#fff" text-anchor="start">(a)</text>
<rect x="361.6" y="628.8" width="334" height="116.3" fill="#fff" stroke="#c8c8dc" stroke-width="1"/>
<path d="M361 628.6h335" stroke="#101020" stroke-width="1.4"/>
<text transform="translate(372.0 676.5) scale(0.989 1)" font-size="47.0" fill="#000" text-anchor="start">RMS = 0.3941</text>
<text x="659.0" y="679.0" font-size="51" fill="#000" style="font-weight:normal" stroke="#000" stroke-width="0.6">λ</text>
<text transform="translate(393.7 730.5) scale(0.991 1)" font-size="47.0" fill="#000" text-anchor="start">PV = 2.6224</text>
<text x="637.5" y="733.2" font-size="51" fill="#000" style="font-weight:normal" stroke="#000" stroke-width="0.6">λ</text>
<path d="M1182.0 77.3V710.6" stroke="#f6f6f6" stroke-width="2.6"/>
<path d="M1305.8 77.3V710.6" stroke="#e1e1e1" stroke-width="2.6"/>
<path d="M1428.4 77.3V710.6" stroke="#e1e1e1" stroke-width="2.6"/>
<path d="M1550.8 77.3V710.6" stroke="#e1e1e1" stroke-width="2.6"/>
<path d="M1674.3 77.3V710.6" stroke="#e1e1e1" stroke-width="2.6"/>
<path d="M1796.9 77.3V710.6" stroke="#e1e1e1" stroke-width="2.6"/>
<path d="M1922.4 77.3V710.6" stroke="#e1e1e1" stroke-width="2.6"/>
<path d="M1128.6 167.5H2044.8" stroke="#e1e1e1" stroke-width="2.6"/>
<path d="M1128.6 350.4H2044.8" stroke="#e1e1e1" stroke-width="2.6"/>
<rect x="1146.6" y="422.9" width="20.6" height="107.6" fill="#0000fb" stroke="#0a0a9a" stroke-width="1.2"/>
<rect x="1171.3" y="164.0" width="20.6" height="366.5" fill="#0000fb" stroke="#0a0a9a" stroke-width="1.2"/>
<rect x="1195.9" y="530.5" width="20.6" height="20.8" fill="#0000fb" stroke="#0a0a9a" stroke-width="1.2"/>
<rect x="1220.6" y="530.5" width="20.6" height="20.0" fill="#0000fb" stroke="#0a0a9a" stroke-width="1.2"/>
<rect x="1245.2" y="530.5" width="20.6" height="53.1" fill="#0000fb" stroke="#0a0a9a" stroke-width="1.2"/>
<rect x="1269.9" y="438.0" width="20.6" height="92.5" fill="#0000fb" stroke="#0a0a9a" stroke-width="1.2"/>
<rect x="1294.6" y="452.8" width="20.6" height="77.7" fill="#0000fb" stroke="#0a0a9a" stroke-width="1.2"/>
<rect x="1319.2" y="530.5" width="20.6" height="31.5" fill="#0000fb" stroke="#0a0a9a" stroke-width="1.2"/>
<rect x="1343.9" y="530.5" width="20.6" height="44.5" fill="#0000fb" stroke="#0a0a9a" stroke-width="1.2"/>
<rect x="1368.5" y="530.5" width="20.6" height="110.1" fill="#0000fb" stroke="#0a0a9a" stroke-width="1.2"/>
<rect x="1393.2" y="466.3" width="20.6" height="64.2" fill="#0000fb" stroke="#0a0a9a" stroke-width="1.2"/>
<rect x="1417.9" y="530.5" width="20.6" height="86.8" fill="#0000fb" stroke="#0a0a9a" stroke-width="1.2"/>
<rect x="1442.5" y="460.6" width="20.6" height="69.9" fill="#0000fb" stroke="#0a0a9a" stroke-width="1.2"/>
<rect x="1467.2" y="518.5" width="20.6" height="12.0" fill="#0000fb" stroke="#0a0a9a" stroke-width="1.2"/>
<rect x="1491.8" y="530.5" width="20.6" height="30.7" fill="#0000fb" stroke="#0a0a9a" stroke-width="1.2"/>
<rect x="1516.5" y="530.5" width="20.6" height="61.0" fill="#0000fb" stroke="#0a0a9a" stroke-width="1.2"/>
<rect x="1541.2" y="510.2" width="20.6" height="20.3" fill="#0000fb" stroke="#0a0a9a" stroke-width="1.2"/>
<rect x="1565.8" y="530.5" width="20.6" height="162.0" fill="#0000fb" stroke="#0a0a9a" stroke-width="1.2"/>
<rect x="1590.5" y="472.1" width="20.6" height="58.4" fill="#0000fb" stroke="#0a0a9a" stroke-width="1.2"/>
<rect x="1615.1" y="485.8" width="20.6" height="44.7" fill="#0000fb" stroke="#0a0a9a" stroke-width="1.2"/>
<rect x="1639.8" y="496.8" width="20.6" height="33.7" fill="#0000fb" stroke="#0a0a9a" stroke-width="1.2"/>
<rect x="1664.5" y="530.5" width="20.6" height="34.0" fill="#0000fb" stroke="#0a0a9a" stroke-width="1.2"/>
<rect x="1689.1" y="530.5" width="20.6" height="18.5" fill="#0000fb" stroke="#0a0a9a" stroke-width="1.2"/>
<rect x="1713.8" y="517.0" width="20.6" height="13.5" fill="#0000fb" stroke="#0a0a9a" stroke-width="1.2"/>
<rect x="1738.4" y="496.2" width="20.6" height="34.3" fill="#0000fb" stroke="#0a0a9a" stroke-width="1.2"/>
<rect x="1763.1" y="530.5" width="20.6" height="36.4" fill="#0000fb" stroke="#0a0a9a" stroke-width="1.2"/>
<rect x="1787.8" y="530.5" width="20.6" height="6.4" fill="#0000fb" stroke="#0a0a9a" stroke-width="1.2"/>
<rect x="1812.4" y="494.1" width="20.6" height="36.4" fill="#0000fb" stroke="#0a0a9a" stroke-width="1.2"/>
<rect x="1837.1" y="491.3" width="20.6" height="39.2" fill="#0000fb" stroke="#0a0a9a" stroke-width="1.2"/>
<rect x="1861.7" y="501.7" width="20.6" height="28.8" fill="#0000fb" stroke="#0a0a9a" stroke-width="1.2"/>
<rect x="1886.4" y="530.5" width="20.6" height="58.3" fill="#0000fb" stroke="#0a0a9a" stroke-width="1.2"/>
<rect x="1911.1" y="530.5" width="20.6" height="54.5" fill="#0000fb" stroke="#0a0a9a" stroke-width="1.2"/>
<rect x="1935.7" y="512.2" width="20.6" height="18.3" fill="#0000fb" stroke="#0a0a9a" stroke-width="1.2"/>
<rect x="1960.4" y="530.5" width="20.6" height="31.2" fill="#0000fb" stroke="#0a0a9a" stroke-width="1.2"/>
<rect x="1985.0" y="530.5" width="20.6" height="8.8" fill="#0000fb" stroke="#0a0a9a" stroke-width="1.2"/>
<path d="M1128.6 530.5H2044.8" stroke="#1a1a1a" stroke-width="2.4"/>
<path d="M1128.6 77.3V710.6H2044.8" fill="none" stroke="#8c8c8c" stroke-width="2.4"/>
<path d="M1128.6 77.3H2044.8V710.6" fill="none" stroke="#262626" stroke-width="2.8" stroke-linecap="square"/>
<path d="M1305.8 710.6v-9M1305.8 77.3v9" stroke="#303030" stroke-width="2.2"/>
<path d="M1428.4 710.6v-9M1428.4 77.3v9" stroke="#303030" stroke-width="2.2"/>
<path d="M1550.8 710.6v-9M1550.8 77.3v9" stroke="#303030" stroke-width="2.2"/>
<path d="M1674.3 710.6v-9M1674.3 77.3v9" stroke="#303030" stroke-width="2.2"/>
<path d="M1796.9 710.6v-9M1796.9 77.3v9" stroke="#303030" stroke-width="2.2"/>
<path d="M1922.4 710.6v-9M1922.4 77.3v9" stroke="#303030" stroke-width="2.2"/>
<path d="M1128.6 167.5h10M2044.8 167.5h-10" stroke="#303030" stroke-width="2.4"/>
<path d="M1128.6 350.4h10M2044.8 350.4h-10" stroke="#303030" stroke-width="2.4"/>
<path d="M1128.6 530.5h10M2044.8 530.5h-10" stroke="#303030" stroke-width="2.4"/>
<text x="1182.0" y="768.2" font-size="47.5" fill="#262626" text-anchor="middle">5</text>
<text x="1305.8" y="768.2" font-size="47.5" fill="#262626" text-anchor="middle">10</text>
<text x="1428.4" y="768.2" font-size="47.5" fill="#262626" text-anchor="middle">15</text>
<text x="1550.8" y="768.2" font-size="47.5" fill="#262626" text-anchor="middle">20</text>
<text x="1674.3" y="768.2" font-size="47.5" fill="#262626" text-anchor="middle">25</text>
<text x="1796.9" y="768.2" font-size="47.5" fill="#262626" text-anchor="middle">30</text>
<text x="1922.4" y="768.2" font-size="47.5" fill="#262626" text-anchor="middle">35</text>
<text x="2043.8" y="768.2" font-size="47.5" fill="#262626" text-anchor="middle">40</text>
<text x="1113.0" y="183.5" font-size="46.0" fill="#262626" text-anchor="end">2</text>
<text x="1113.0" y="366.4" font-size="46.0" fill="#262626" text-anchor="end">1</text>
<text x="1113.0" y="546.5" font-size="46.0" fill="#262626" text-anchor="end">0</text>
<text x="1113.0" y="726.6" font-size="46.0" fill="#262626" text-anchor="end">-1</text>
<text transform="translate(1585.7 829.6) scale(1.032 1)" font-size="53.0" fill="#262626" text-anchor="middle">Zernike order</text>
<text transform="translate(1057.3 395.3) rotate(-90) scale(1.034 1)" font-size="53" fill="#262626" text-anchor="middle">Coefficients</text>
<text transform="translate(1175.5 153.3) scale(1.035 1)" font-size="79.0" fill="#000" text-anchor="start">(b)</text>
</svg></body></html>
